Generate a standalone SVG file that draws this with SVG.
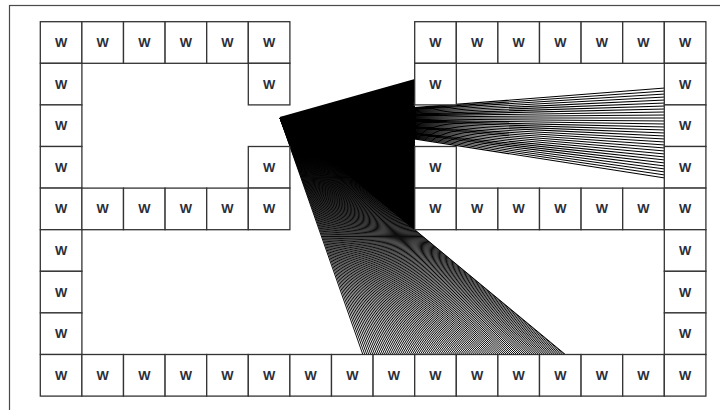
<svg xmlns="http://www.w3.org/2000/svg" width="720" height="410" viewBox="0 0 720 410">
  <style>
    .frame { fill: none; stroke: #4a4a4a; stroke-width: 1.2; }
    .ray { fill: none; stroke: #000; stroke-width: 1.1; }
    .ray.dense { stroke-width: 1.9; }
    .ray.mid { stroke-width: 1.5; }
    .ray.floor { stroke-width: 0.95; }
    .cell rect { fill: #fff; stroke: #333; stroke-width: 1.3; }
    .cell text { font-family: "Liberation Sans", Arial, sans-serif; font-size: 13px; font-weight: bold; fill: #2b2f3a; text-anchor: middle; }
  </style>
  <rect width="720" height="410" fill="#fff"/>
  <rect class="frame" x="9.5" y="5.5" width="720" height="420"/>

  <!-- rays fanned out from a single point; wall cells are drawn over them -->
  <g id="connectors">
    <path class="ray dense" d="M280 118 415 80M280 118 415 81.5M280 118 415 83M280 118 415 84.5M280 118 415 86M280 118 415 87.5M280 118 415 89M280 118 415 90.5M280 118 415 92M280 118 415 93.5M280 118 415 95M280 118 415 96.5M280 118 415 98M280 118 415 99.5M280 118 415 101M280 118 415 102.5M280 118 415 104M280 118 415 105.5M280 118 415 107"/>
    <path class="ray" d="M280 118 665 88M280 118 665 91M280 118 665 94M280 118 665 97M280 118 665 100M280 118 665 103M280 118 665 106M280 118 665 109M280 118 665 112M280 118 665 115M280 118 665 118M280 118 665 121M280 118 665 124M280 118 665 127M280 118 665 130M280 118 665 133M280 118 665 136M280 118 665 139M280 118 665 142M280 118 665 145M280 118 665 148M280 118 665 151M280 118 665 154M280 118 665 157M280 118 665 160M280 118 665 163M280 118 665 166M280 118 665 169M280 118 665 172M280 118 665 175M280 118 665 178"/>
    <path class="ray dense" d="M280 118 415 107M280 118 415 109M280 118 415 111M280 118 415 113M280 118 415 115M280 118 415 117M280 118 415 119M280 118 415 121M280 118 415 123M280 118 415 125M280 118 415 127M280 118 415 129M280 118 415 131M280 118 415 133M280 118 415 135M280 118 415 137M280 118 415 139"/>
    <path class="ray mid" d="M280 118 415 140M280 118 415 141.5M280 118 415 143M280 118 415 144.5M280 118 415 146M280 118 415 147.5M280 118 415 149M280 118 415 150.5M280 118 415 152M280 118 415 153.5M280 118 415 155M280 118 415 156.5M280 118 415 158M280 118 415 159.5M280 118 415 161M280 118 415 162.5M280 118 415 164M280 118 415 165.5M280 118 415 167M280 118 415 168.5M280 118 415 170M280 118 415 171.5M280 118 415 173M280 118 415 174.5M280 118 415 176M280 118 415 177.5M280 118 415 179M280 118 415 180.5M280 118 415 182M280 118 415 183.5M280 118 415 185M280 118 415 186.5M280 118 415 188M280 118 415 189.5M280 118 415 191M280 118 415 192.5M280 118 415 194M280 118 415 195.5M280 118 415 197M280 118 415 198.5M280 118 415 200M280 118 415 201.5M280 118 415 203M280 118 415 204.5M280 118 415 206M280 118 415 207.5M280 118 415 209M280 118 415 210.5M280 118 415 212M280 118 415 213.5M280 118 415 215M280 118 415 216.5M280 118 415 218M280 118 415 219.5M280 118 415 221M280 118 415 222.5M280 118 415 224M280 118 415 225.5M280 118 415 227M280 118 415 228.5M280 118 415 229.5"/>
    <path class="ray floor" d="M280 118 363 355M280 118 365 355M280 118 367 355M280 118 369 355M280 118 371 355M280 118 373 355M280 118 375 355M280 118 377 355M280 118 379 355M280 118 381 355M280 118 383 355M280 118 385 355M280 118 387 355M280 118 389 355M280 118 391 355M280 118 393 355M280 118 395 355M280 118 397 355M280 118 399 355M280 118 401 355M280 118 403 355M280 118 405 355M280 118 407 355M280 118 409 355M280 118 411 355M280 118 413 355M280 118 415 355M280 118 417 355M280 118 419 355M280 118 421 355M280 118 423 355M280 118 425 355M280 118 427 355M280 118 429 355M280 118 431 355M280 118 433 355M280 118 435 355M280 118 437 355M280 118 439 355M280 118 441 355M280 118 443 355M280 118 445 355M280 118 447 355M280 118 449 355M280 118 451 355M280 118 453 355M280 118 455 355M280 118 457 355M280 118 459 355M280 118 461 355M280 118 463 355M280 118 465 355M280 118 467 355M280 118 469 355M280 118 471 355M280 118 473 355M280 118 475 355M280 118 477 355M280 118 479 355M280 118 481 355M280 118 483 355M280 118 485 355M280 118 487 355M280 118 489 355M280 118 491 355M280 118 493 355M280 118 495 355M280 118 497 355M280 118 499 355M280 118 501 355M280 118 503 355M280 118 505 355M280 118 507 355M280 118 509 355M280 118 511 355M280 118 513 355M280 118 515 355M280 118 517 355M280 118 519 355M280 118 521 355M280 118 523 355M280 118 525 355M280 118 527 355M280 118 529 355M280 118 531 355M280 118 533 355M280 118 535 355M280 118 537 355M280 118 539 355M280 118 541 355M280 118 543 355M280 118 545 355M280 118 547 355M280 118 549 355M280 118 551 355M280 118 553 355M280 118 555 355M280 118 557 355M280 118 559 355M280 118 561 355M280 118 563 355M280 118 565 355M280 118 566 355"/>
  </g>

  <!-- wall cells: 41.6px grid, origin (40.3, 21.7) -->
  <g id="walls">
    <!-- row 0 -->
    <g id="w-r0-c0" class="cell" transform="translate(40.3,21.7)"><rect width="41.6" height="41.6"/><text x="20.8" y="25.3">W</text></g>
    <g id="w-r0-c1" class="cell" transform="translate(81.9,21.7)"><rect width="41.6" height="41.6"/><text x="20.8" y="25.3">W</text></g>
    <g id="w-r0-c2" class="cell" transform="translate(123.5,21.7)"><rect width="41.6" height="41.6"/><text x="20.8" y="25.3">W</text></g>
    <g id="w-r0-c3" class="cell" transform="translate(165.1,21.7)"><rect width="41.6" height="41.6"/><text x="20.8" y="25.3">W</text></g>
    <g id="w-r0-c4" class="cell" transform="translate(206.7,21.7)"><rect width="41.6" height="41.6"/><text x="20.8" y="25.3">W</text></g>
    <g id="w-r0-c5" class="cell" transform="translate(248.3,21.7)"><rect width="41.6" height="41.6"/><text x="20.8" y="25.3">W</text></g>
    <g id="w-r0-c9" class="cell" transform="translate(414.7,21.7)"><rect width="41.6" height="41.6"/><text x="20.8" y="25.3">W</text></g>
    <g id="w-r0-c10" class="cell" transform="translate(456.3,21.7)"><rect width="41.6" height="41.6"/><text x="20.8" y="25.3">W</text></g>
    <g id="w-r0-c11" class="cell" transform="translate(497.9,21.7)"><rect width="41.6" height="41.6"/><text x="20.8" y="25.3">W</text></g>
    <g id="w-r0-c12" class="cell" transform="translate(539.5,21.7)"><rect width="41.6" height="41.6"/><text x="20.8" y="25.3">W</text></g>
    <g id="w-r0-c13" class="cell" transform="translate(581.1,21.7)"><rect width="41.6" height="41.6"/><text x="20.8" y="25.3">W</text></g>
    <g id="w-r0-c14" class="cell" transform="translate(622.7,21.7)"><rect width="41.6" height="41.6"/><text x="20.8" y="25.3">W</text></g>
    <g id="w-r0-c15" class="cell" transform="translate(664.3,21.7)"><rect width="41.6" height="41.6"/><text x="20.8" y="25.3">W</text></g>
    <!-- row 1 -->
    <g id="w-r1-c0" class="cell" transform="translate(40.3,63.3)"><rect width="41.6" height="41.6"/><text x="20.8" y="25.3">W</text></g>
    <g id="w-r1-c5" class="cell" transform="translate(248.3,63.3)"><rect width="41.6" height="41.6"/><text x="20.8" y="25.3">W</text></g>
    <g id="w-r1-c9" class="cell" transform="translate(414.7,63.3)"><rect width="41.6" height="41.6"/><text x="20.8" y="25.3">W</text></g>
    <g id="w-r1-c15" class="cell" transform="translate(664.3,63.3)"><rect width="41.6" height="41.6"/><text x="20.8" y="25.3">W</text></g>
    <!-- row 2 -->
    <g id="w-r2-c0" class="cell" transform="translate(40.3,104.9)"><rect width="41.6" height="41.6"/><text x="20.8" y="25.3">W</text></g>
    <g id="w-r2-c15" class="cell" transform="translate(664.3,104.9)"><rect width="41.6" height="41.6"/><text x="20.8" y="25.3">W</text></g>
    <!-- row 3 -->
    <g id="w-r3-c0" class="cell" transform="translate(40.3,146.5)"><rect width="41.6" height="41.6"/><text x="20.8" y="25.3">W</text></g>
    <g id="w-r3-c5" class="cell" transform="translate(248.3,146.5)"><rect width="41.6" height="41.6"/><text x="20.8" y="25.3">W</text></g>
    <g id="w-r3-c9" class="cell" transform="translate(414.7,146.5)"><rect width="41.6" height="41.6"/><text x="20.8" y="25.3">W</text></g>
    <g id="w-r3-c15" class="cell" transform="translate(664.3,146.5)"><rect width="41.6" height="41.6"/><text x="20.8" y="25.3">W</text></g>
    <!-- row 4 -->
    <g id="w-r4-c0" class="cell" transform="translate(40.3,188.1)"><rect width="41.6" height="41.6"/><text x="20.8" y="25.3">W</text></g>
    <g id="w-r4-c1" class="cell" transform="translate(81.9,188.1)"><rect width="41.6" height="41.6"/><text x="20.8" y="25.3">W</text></g>
    <g id="w-r4-c2" class="cell" transform="translate(123.5,188.1)"><rect width="41.6" height="41.6"/><text x="20.8" y="25.3">W</text></g>
    <g id="w-r4-c3" class="cell" transform="translate(165.1,188.1)"><rect width="41.6" height="41.6"/><text x="20.8" y="25.3">W</text></g>
    <g id="w-r4-c4" class="cell" transform="translate(206.7,188.1)"><rect width="41.6" height="41.6"/><text x="20.8" y="25.3">W</text></g>
    <g id="w-r4-c5" class="cell" transform="translate(248.3,188.1)"><rect width="41.6" height="41.6"/><text x="20.8" y="25.3">W</text></g>
    <g id="w-r4-c9" class="cell" transform="translate(414.7,188.1)"><rect width="41.6" height="41.6"/><text x="20.8" y="25.3">W</text></g>
    <g id="w-r4-c10" class="cell" transform="translate(456.3,188.1)"><rect width="41.6" height="41.6"/><text x="20.8" y="25.3">W</text></g>
    <g id="w-r4-c11" class="cell" transform="translate(497.9,188.1)"><rect width="41.6" height="41.6"/><text x="20.8" y="25.3">W</text></g>
    <g id="w-r4-c12" class="cell" transform="translate(539.5,188.1)"><rect width="41.6" height="41.6"/><text x="20.8" y="25.3">W</text></g>
    <g id="w-r4-c13" class="cell" transform="translate(581.1,188.1)"><rect width="41.6" height="41.6"/><text x="20.8" y="25.3">W</text></g>
    <g id="w-r4-c14" class="cell" transform="translate(622.7,188.1)"><rect width="41.6" height="41.6"/><text x="20.8" y="25.3">W</text></g>
    <g id="w-r4-c15" class="cell" transform="translate(664.3,188.1)"><rect width="41.6" height="41.6"/><text x="20.8" y="25.3">W</text></g>
    <!-- rows 5-7 -->
    <g id="w-r5-c0" class="cell" transform="translate(40.3,229.7)"><rect width="41.6" height="41.6"/><text x="20.8" y="25.3">W</text></g>
    <g id="w-r5-c15" class="cell" transform="translate(664.3,229.7)"><rect width="41.6" height="41.6"/><text x="20.8" y="25.3">W</text></g>
    <g id="w-r6-c0" class="cell" transform="translate(40.3,271.3)"><rect width="41.6" height="41.6"/><text x="20.8" y="25.3">W</text></g>
    <g id="w-r6-c15" class="cell" transform="translate(664.3,271.3)"><rect width="41.6" height="41.6"/><text x="20.8" y="25.3">W</text></g>
    <g id="w-r7-c0" class="cell" transform="translate(40.3,312.9)"><rect width="41.6" height="41.6"/><text x="20.8" y="25.3">W</text></g>
    <g id="w-r7-c15" class="cell" transform="translate(664.3,312.9)"><rect width="41.6" height="41.6"/><text x="20.8" y="25.3">W</text></g>
    <!-- row 8 -->
    <g id="w-r8-c0" class="cell" transform="translate(40.3,354.5)"><rect width="41.6" height="41.6"/><text x="20.8" y="25.3">W</text></g>
    <g id="w-r8-c1" class="cell" transform="translate(81.9,354.5)"><rect width="41.6" height="41.6"/><text x="20.8" y="25.3">W</text></g>
    <g id="w-r8-c2" class="cell" transform="translate(123.5,354.5)"><rect width="41.6" height="41.6"/><text x="20.8" y="25.3">W</text></g>
    <g id="w-r8-c3" class="cell" transform="translate(165.1,354.5)"><rect width="41.6" height="41.6"/><text x="20.8" y="25.3">W</text></g>
    <g id="w-r8-c4" class="cell" transform="translate(206.7,354.5)"><rect width="41.6" height="41.6"/><text x="20.8" y="25.3">W</text></g>
    <g id="w-r8-c5" class="cell" transform="translate(248.3,354.5)"><rect width="41.6" height="41.6"/><text x="20.8" y="25.3">W</text></g>
    <g id="w-r8-c6" class="cell" transform="translate(289.9,354.5)"><rect width="41.6" height="41.6"/><text x="20.8" y="25.3">W</text></g>
    <g id="w-r8-c7" class="cell" transform="translate(331.5,354.5)"><rect width="41.6" height="41.6"/><text x="20.8" y="25.3">W</text></g>
    <g id="w-r8-c8" class="cell" transform="translate(373.1,354.5)"><rect width="41.6" height="41.6"/><text x="20.8" y="25.3">W</text></g>
    <g id="w-r8-c9" class="cell" transform="translate(414.7,354.5)"><rect width="41.6" height="41.6"/><text x="20.8" y="25.3">W</text></g>
    <g id="w-r8-c10" class="cell" transform="translate(456.3,354.5)"><rect width="41.6" height="41.6"/><text x="20.8" y="25.3">W</text></g>
    <g id="w-r8-c11" class="cell" transform="translate(497.9,354.5)"><rect width="41.6" height="41.6"/><text x="20.8" y="25.3">W</text></g>
    <g id="w-r8-c12" class="cell" transform="translate(539.5,354.5)"><rect width="41.6" height="41.6"/><text x="20.8" y="25.3">W</text></g>
    <g id="w-r8-c13" class="cell" transform="translate(581.1,354.5)"><rect width="41.6" height="41.6"/><text x="20.8" y="25.3">W</text></g>
    <g id="w-r8-c14" class="cell" transform="translate(622.7,354.5)"><rect width="41.6" height="41.6"/><text x="20.8" y="25.3">W</text></g>
    <g id="w-r8-c15" class="cell" transform="translate(664.3,354.5)"><rect width="41.6" height="41.6"/><text x="20.8" y="25.3">W</text></g>
  </g>
</svg>
